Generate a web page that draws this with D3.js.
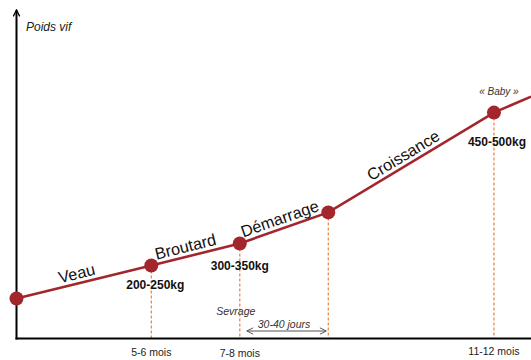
<!DOCTYPE html>
<html><head><meta charset="utf-8">
<script src="https://cdn.jsdelivr.net/npm/d3@7"></script>
<style>body{margin:0;background:#fff}svg{display:block}</style>
</head><body>
<svg id="c" width="531" height="360"></svg>
<script>
// Schematic data (arbitrary units)
const pointX = [0, 26.2, 43.4, 60.6, 92.8, 100];      // time position
const pointY = [12.5, 22.8, 29.7, 39.4, 70.6, 75.6];   // live weight (relative)
const markerIdx = [0, 1, 2, 3, 4];                       // points with a marker
const stageNames = ["Veau", "Broutard", "Démarrage", "Croissance"];
const weightLabels = ["200-250kg", "300-350kg", "450-500kg"];
const weightIdx = [1, 2, 4];
const ageLabels = ["5-6 mois", "7-8 mois", "11-12 mois"];
const ageIdx = [1, 2, 4];
const dashedIdx = [1, 2, 3, 4];

const svg = d3.select("#c");
const x = d3.scaleLinear().domain([0, 100]).range([16.5, 531]);
const y = d3.scaleLinear().domain([0, 100]).range([338.5, 18.5]);
const red = "#a3262d", orange = "#e8804a";

// dashed verticals
svg.selectAll("line.dash").data(dashedIdx).join("line")
  .attr("x1", i => x(pointX[i])).attr("x2", i => x(pointX[i]))
  .attr("y1", i => y(pointY[i])).attr("y2", y(0))
  .attr("stroke", orange).attr("stroke-width", 1.2).attr("stroke-dasharray", "3,2");

// axes
const defs = svg.append("defs");
defs.append("marker").attr("id", "ah").attr("viewBox", "0 0 10 10").attr("refX", 9).attr("refY", 5)
  .attr("markerWidth", 8).attr("markerHeight", 8).attr("orient", "auto-start-reverse")
  .attr("markerUnits", "userSpaceOnUse")
  .append("path").attr("d", "M1,1 L9,5 L1,9").attr("fill", "none").attr("stroke", "#000").attr("stroke-width", 1.6);
defs.append("marker").attr("id", "ag").attr("viewBox", "0 0 10 10").attr("refX", 9).attr("refY", 5)
  .attr("markerWidth", 8).attr("markerHeight", 8).attr("orient", "auto-start-reverse")
  .attr("markerUnits", "userSpaceOnUse")
  .append("path").attr("d", "M1,1 L9,5 L1,9").attr("fill", "none").attr("stroke", "#555").attr("stroke-width", 1.2);

svg.append("line").attr("x1", x(0)).attr("x2", x(0)).attr("y1", y(0) + 1).attr("y2", 10)
  .attr("stroke", "#000").attr("stroke-width", 2).attr("marker-end", "url(#ah)");
svg.append("line").attr("x1", x(0) - 1).attr("x2", 531).attr("y1", y(0)).attr("y2", y(0))
  .attr("stroke", "#000").attr("stroke-width", 2);

// growth line
const line = d3.line().x((d, i) => x(pointX[i])).y((d, i) => y(pointY[i]));
svg.append("path").datum(pointY).attr("d", line).attr("fill", "none")
  .attr("stroke", red).attr("stroke-width", 2.6);

svg.selectAll("circle.pt").data(markerIdx).join("circle")
  .attr("cx", i => x(pointX[i])).attr("cy", i => y(pointY[i])).attr("r", 7).attr("fill", red);

// stage labels along segments
const font = "'Liberation Sans', Arial, sans-serif";
const shift = [-5, -8, -1, -3];
stageNames.forEach((name, i) => {
  const x0 = x(pointX[i]), y0 = y(pointY[i]), x1 = x(pointX[i + 1]), y1 = y(pointY[i + 1]);
  const ang = Math.atan2(y1 - y0, x1 - x0) * 180 / Math.PI;
  const mx = (x0 + x1) / 2, my = (y0 + y1) / 2;
  svg.append("text").attr("transform", `translate(${mx},${my}) rotate(${ang})`)
    .attr("text-anchor", "middle").attr("x", shift[i]).attr("y", -4.5)
    .attr("font-family", font).attr("font-size", 16.3).attr("fill", "#111").text(name);
});

// weight labels
const wOff = [[4, 23], [0, 27], [3, 33]];
svg.selectAll("text.w").data(weightIdx).join("text")
  .attr("x", (i, k) => x(pointX[i]) + wOff[k][0]).attr("y", (i, k) => y(pointY[i]) + wOff[k][1])
  .attr("text-anchor", "middle").attr("font-family", font).attr("font-weight", "bold")
  .attr("font-size", 12).attr("fill", "#111").text((i, k) => weightLabels[k]);

// age labels
const ageY = [356, 357, 355];
svg.selectAll("text.a").data(ageIdx).join("text")
  .attr("x", i => x(pointX[i])).attr("y", (i, k) => ageY[k])
  .attr("text-anchor", "middle").attr("font-family", font)
  .attr("font-size", 10.5).attr("fill", "#222").text((i, k) => ageLabels[k]);

// annotations
svg.append("text").attr("x", 26).attr("y", 31).attr("font-family", font).attr("font-style", "italic")
  .attr("font-size", 12).attr("fill", "#222").text("Poids vif");
svg.append("text").attr("x", x(pointX[2]) - 4).attr("y", 315).attr("text-anchor", "middle")
  .attr("font-family", font).attr("font-style", "italic").attr("font-size", 10.5).attr("fill", "#333").text("Sevrage");
svg.append("text").attr("x", (x(pointX[2]) + x(pointX[3])) / 2).attr("y", 328).attr("text-anchor", "middle")
  .attr("font-family", font).attr("font-style", "italic").attr("font-size", 10.5).attr("fill", "#333").text("30-40 jours");
svg.append("line").attr("x1", x(pointX[2]) + 7).attr("x2", x(pointX[3]) - 2).attr("y1", 331).attr("y2", 331)
  .attr("stroke", "#555").attr("stroke-width", 1.2)
  .attr("marker-start", "url(#ag)").attr("marker-end", "url(#ag)");
svg.append("text").attr("x", x(pointX[4]) + 5).attr("y", 95).attr("text-anchor", "middle")
  .attr("font-family", font).attr("font-style", "italic").attr("font-size", 10).attr("fill", "#333").text("« Baby »");
</script>
</body></html>
